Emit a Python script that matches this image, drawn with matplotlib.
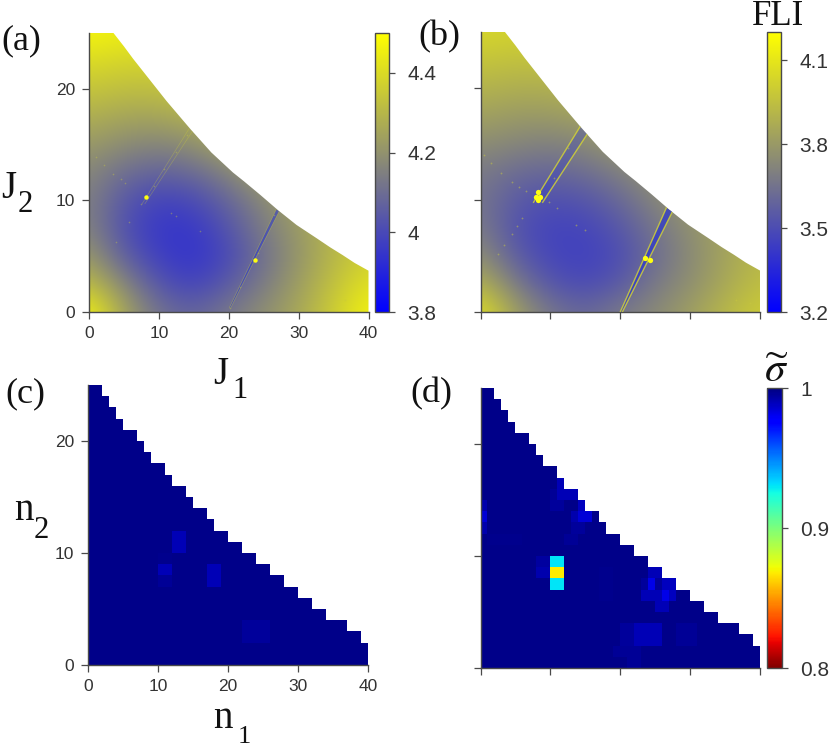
import numpy as np
import matplotlib
matplotlib.use("Agg")
import matplotlib.pyplot as plt
from matplotlib.colors import LinearSegmentedColormap
from matplotlib.patches import Polygon

W, H = 831, 747
plt.rcParams['mathtext.fontset'] = 'stix'
SERIF = 'Liberation Serif'
SANS = 'Liberation Sans'
DARK = '#4a4a4a'

# ---- data ----
J1_nodes = [0, 5, 10, 15, 20, 25, 30, 35, 40]
J2_nodes = [0, 2.5, 5, 7.5, 10, 12.5, 15, 17.5, 20, 22.5, 25]

fli_a = [
    [4.47, 4.25, 4.11, 4.07, 4.13, 4.19, 4.26, 4.36, 4.47],
    [4.32, 4.17, 4.03, 3.98, 4.05, 4.14, 4.23, 4.33, 4.42],
    [4.22, 4.06, 3.97, 3.94, 4.00, 4.11, 4.21, 4.30, 4.37],
    [4.16, 4.02, 3.95, 3.95, 4.03, 4.14, 4.22, 4.30, 4.36],
    [4.15, 4.04, 3.98, 4.00, 4.08, 4.17, 4.25, 4.32, 4.38],
    [4.17, 4.10, 4.07, 4.09, 4.16, 4.25, 4.32, 4.38, 4.42],
    [4.22, 4.18, 4.16, 4.19, 4.26, 4.32, 4.38, 4.42, 4.46],
    [4.28, 4.25, 4.25, 4.28, 4.33, 4.38, 4.42, 4.46, 4.48],
    [4.34, 4.32, 4.32, 4.35, 4.38, 4.42, 4.46, 4.48, 4.50],
    [4.40, 4.38, 4.38, 4.40, 4.42, 4.46, 4.48, 4.50, 4.50],
    [4.47, 4.45, 4.44, 4.45, 4.47, 4.48, 4.50, 4.50, 4.50],
]
fli_b = [
    [4.08, 3.82, 3.66, 3.60, 3.68, 3.74, 3.82, 3.92, 4.00],
    [3.90, 3.68, 3.53, 3.49, 3.55, 3.68, 3.76, 3.86, 3.95],
    [3.76, 3.56, 3.47, 3.45, 3.50, 3.63, 3.74, 3.84, 3.92],
    [3.68, 3.52, 3.46, 3.47, 3.54, 3.66, 3.76, 3.84, 3.92],
    [3.66, 3.55, 3.51, 3.53, 3.61, 3.72, 3.80, 3.88, 3.94],
    [3.68, 3.62, 3.60, 3.63, 3.70, 3.78, 3.86, 3.92, 3.98],
    [3.75, 3.72, 3.70, 3.73, 3.80, 3.86, 3.92, 3.98, 4.02],
    [3.83, 3.80, 3.80, 3.83, 3.88, 3.92, 3.98, 4.02, 4.05],
    [3.90, 3.88, 3.88, 3.92, 3.96, 3.98, 4.02, 4.05, 4.08],
    [3.97, 3.95, 3.96, 3.98, 4.00, 4.02, 4.05, 4.08, 4.10],
    [4.04, 4.02, 4.03, 4.04, 4.05, 4.08, 4.10, 4.10, 4.10],
]

edge_J1 = [0, 3.5, 5, 6.3, 8.7, 11.1, 14.5, 17.5, 20.6, 22.2, 24.5, 27, 29.7, 32.6, 34.5, 36.3, 38, 40, 40, 0]
edge_J2 = [25, 25, 23.8, 22.7, 20.8, 18.9, 16.4, 14.3, 12.5, 11.7, 10.5, 9.15, 7.8, 6.6, 5.8, 5.1, 4.4, 3.7, 0, 0]

# two edges of each resonance strip
a_res1_left_J1 = [20.1, 26.8]
a_res1_left_J2 = [0.4, 9.2]
a_res1_right_J1 = [20.3, 27.2]
a_res1_right_J2 = [0.4, 9.0]
a_res2_left_J1 = [7.6, 14.3]
a_res2_left_J2 = [9.7, 16.4]
a_res2_right_J1 = [8.0, 14.8]
a_res2_right_J2 = [9.7, 16.2]
b_res1_left_J1 = [20.0, 26.6]
b_res1_left_J2 = [0.0, 9.3]
b_res1_right_J1 = [20.3, 27.5]
b_res1_right_J2 = [0.0, 9.0]
b_res2_left_J1 = [7.6, 14.4]
b_res2_left_J2 = [9.8, 16.7]
b_res2_right_J1 = [8.9, 15.5]
b_res2_right_J2 = [9.8, 16.1]

a_spot_J1 = [1.0, 2.2, 3.4, 4.6, 5.2, 11.8, 12.5, 15.9, 5.7, 3.9, 9.3, 10.7, 12.5, 14.0, 7.5, 20.2, 21.6, 24.2, 26.5, 36.6]
a_spot_J2 = [13.9, 13.2, 12.4, 11.9, 11.6, 8.9, 8.6, 7.3, 8.1, 6.3, 11.3, 12.8, 14.3, 15.9, 9.7, 0.4, 2.2, 5.3, 8.7, 1.1]
a_hot_J1 = [8.2, 23.7]
a_hot_J2 = [10.3, 4.7]

b_spot_J1 = [0.5, 1.5, 3.0, 4.5, 5.5, 6.5, 9.8, 11.0, 13.6, 15.0, 5.2, 4.5, 3.4, 2.5, 6.0, 10.5, 12.5, 36.5, 38.5]
b_spot_J2 = [14.0, 13.3, 12.4, 11.6, 11.2, 10.8, 9.8, 9.3, 7.8, 7.3, 7.7, 7.0, 6.0, 5.2, 8.4, 12.0, 14.6, 1.1, 0.8]
b_hot_J1 = [7.9, 8.5, 8.2, 8.2, 23.5, 24.2]
b_hot_J2 = [10.3, 10.3, 10.7, 10.0, 4.8, 4.6]

row_lengths = [40, 40, 39, 37, 34, 32, 30, 28, 26, 24, 22, 20, 18, 17, 15, 14, 12, 11, 9, 8, 7, 5, 4, 3, 2]
sigma_base = 0.998

c_n1 = [12, 13, 12, 13, 10, 11, 10, 11, 10, 11, 17, 18, 17, 18, 22, 23, 24, 25, 22, 23, 24, 25]
c_n2 = [11, 11, 10, 10, 9, 9, 8, 8, 7, 7, 8, 8, 7, 7, 3, 3, 3, 3, 2, 2, 2, 2]
c_val = [.990, .990, .990, .990, .997, .997, .990, .990, .996, .996, .990, .990, .990, .990,
         .995, .995, .995, .995, .995, .995, .995, .995]

d_n1 = [10, 11, 10, 11, 10, 11, 8, 9, 8, 9,
        0, 0, 0,
        11, 10, 11, 12, 13, 10, 11, 14, 13, 14, 15, 13, 14, 12, 13,
        24, 25, 23, 24, 25, 26, 27, 23, 24, 25, 26, 27, 25, 26,
        22, 23, 24, 25, 22, 23, 24, 25, 20, 21, 20, 21, 19, 20, 21, 22, 21, 22,
        28, 29, 30, 28, 29, 30, 17, 18, 17, 18, 17, 18, 1, 2, 3, 4, 5]
d_n2 = [9, 9, 8, 8, 7, 7, 9, 9, 8, 8,
        14, 13, 12,
        16, 15, 15, 15, 15, 14, 14, 14, 13, 13, 13, 12, 12, 11, 11,
        8, 8, 7, 7, 7, 7, 7, 6, 6, 6, 6, 6, 5, 5,
        3, 3, 3, 3, 2, 2, 2, 2, 3, 3, 2, 2, 1, 1, 1, 1, 0, 0,
        3, 3, 3, 2, 2, 2, 8, 8, 7, 7, 6, 6, 11, 11, 11, 11, 11]
d_val = [.93, .93, .868, .868, .93, .93, .994, .994, .992, .992,
         .992, .985, .992,
         .990, .996, .990, .990, .990, .995, .995, .989, .992, .985, .985, .995, .995, .996, .996,
         .990, .990, .995, .982, .995, .989, .989, .990, .990, .990, .982, .989, .990, .990,
         .990, .990, .990, .990, .990, .990, .990, .990, .995, .995, .995, .995, .996, .996, .996, .996, .996, .996,
         .996, .996, .996, .996, .996, .996, .997, .997, .997, .997, .997, .997, .997, .997, .997, .997, .997]

ticks_x = [0, 10, 20, 30, 40]
ticks_y = [0, 10, 20]
cbar_a_ticks = [3.8, 4.0, 4.2, 4.4]
cbar_a_labels = ['3.8', '4', '4.2', '4.4']
cbar_b_ticks = [3.2, 3.5, 3.8, 4.1]
cbar_d_ticks = [0.8, 0.9, 1.0]
cbar_d_labels = ['0.8', '0.9', '1']

# ---- helpers ----
fig = plt.figure(figsize=(W / 100, H / 100), dpi=100, facecolor='white')


def px_axes(x0, y0, x1, y1):
    return fig.add_axes([x0 / W, 1 - y1 / H, (x1 - x0) / W, (y1 - y0) / H])


def px_text(x, y, s, size, **kw):
    kw.setdefault('family', SERIF)
    fig.text(x / W, 1 - y / H, s, fontsize=size, color='#111111', va='baseline', ha='left', **kw)


def style(ax, labels):
    ax.set_xlim(0, 40)
    ax.set_ylim(0, 25)
    for s in ('top', 'right'):
        ax.spines[s].set_visible(False)
    for s in ('left', 'bottom'):
        ax.spines[s].set_color(DARK)
        ax.spines[s].set_linewidth(1.0)
    ax.set_xticks(ticks_x)
    ax.set_yticks(ticks_y)
    ax.tick_params(length=5, width=0.9, color=DARK, pad=5, labelsize=12.5, labelcolor='#333333',
                   labelbottom=labels, labelleft=labels)
    if labels:
        for t in ax.get_xticklabels() + ax.get_yticklabels():
            t.set_family(SANS)
    ax.set_facecolor('white')


def style_cbar(cb, ticks, labels):
    cb.set_ticks(ticks)
    cb.set_ticklabels(labels)
    cb.ax.minorticks_off()
    cb.ax.tick_params(length=4, width=0.9, color=DARK, pad=9, labelsize=15, labelcolor='#333333')
    for t in cb.ax.get_yticklabels():
        t.set_family(SANS)
    cb.outline.set_edgecolor(DARK)
    cb.outline.set_linewidth(1.0)


fli_cmap = LinearSegmentedColormap.from_list('fli', ['#0000ff', '#808080', '#ffff00'])
sig_cmap = plt.get_cmap('jet_r')
extent = (J1_nodes[0] - 2.5, J1_nodes[-1] + 2.5, J2_nodes[0] - 1.25, J2_nodes[-1] + 1.25)


def strip(ax, poly, lx, ly, rx, ry, blue_alpha, lw, line_alpha):
    arts = ax.fill(list(lx) + list(rx)[::-1], list(ly) + list(ry)[::-1], color='#2a35d0',
                   alpha=blue_alpha, lw=0, zorder=2)
    arts += ax.plot(lx, ly, color='#d8d830', lw=lw, alpha=line_alpha, zorder=3)
    arts += ax.plot(rx, ry, color='#d8d830', lw=lw, alpha=line_alpha, zorder=3)
    for art in arts:
        art.set_clip_path(poly)


def fli_panel(rect, rect_cb, grid, vmin, vmax, labels):
    ax = px_axes(*rect)
    im = ax.imshow(np.array(grid), origin='lower', extent=extent, aspect='auto', cmap=fli_cmap,
                   vmin=vmin, vmax=vmax, interpolation='bicubic', zorder=1)
    poly = Polygon(np.column_stack([edge_J1, edge_J2]), closed=True, transform=ax.transData,
                   facecolor='none', edgecolor='none')
    ax.add_patch(poly)
    im.set_clip_path(poly)
    style(ax, labels)
    cax = px_axes(*rect_cb)
    cb = fig.colorbar(im, cax=cax)
    return ax, poly, cb


def sigma_panel(rect, n1, n2, vals, labels):
    ax = px_axes(*rect)
    z = np.ma.masked_all((25, 40))
    for row, length in enumerate(row_lengths):
        z[row, :length] = sigma_base
    for a, b, v in zip(n1, n2, vals):
        z[b, a] = v
    m = ax.pcolormesh(np.arange(41), np.arange(26), z, cmap=sig_cmap, vmin=0.8, vmax=1.0,
                      shading='flat', linewidth=0, rasterized=True)
    style(ax, labels)
    return m


# ---- panels ----
ax_a, poly_a, cb_a = fli_panel((89, 33, 368.5, 312), (375, 33, 389, 312), fli_a, 3.8, 4.5, True)
style_cbar(cb_a, cbar_a_ticks, cbar_a_labels)
strip(ax_a, poly_a, a_res1_left_J1, a_res1_left_J2, a_res1_right_J1, a_res1_right_J2, 0.55, 0.5, 0.4)
strip(ax_a, poly_a, a_res2_left_J1, a_res2_left_J2, a_res2_right_J1, a_res2_right_J2, 0.0, 0.5, 0.3)
ax_a.plot(a_spot_J1, a_spot_J2, ls='none', marker='o', ms=1.2, mec='none', color='#c8c840', alpha=0.4, zorder=4)
ax_a.plot(a_hot_J1, a_hot_J2, ls='none', marker='o', ms=3.2, mec='none', color='#ffff10', zorder=5)

ax_b, poly_b, cb_b = fli_panel((480.5, 32, 760, 312), (767, 32, 781, 312), fli_b, 3.2, 4.2, False)
style_cbar(cb_b, cbar_b_ticks, [str(t) for t in cbar_b_ticks])
strip(ax_b, poly_b, b_res1_left_J1, b_res1_left_J2, b_res1_right_J1, b_res1_right_J2, 0.7, 1.0, 0.8)
strip(ax_b, poly_b, b_res2_left_J1, b_res2_left_J2, b_res2_right_J1, b_res2_right_J2, 0.3, 1.0, 0.8)
ax_b.plot(b_spot_J1, b_spot_J2, ls='none', marker='o', ms=1.3, mec='none', color='#c8c840', alpha=0.5, zorder=4)
ax_b.plot(b_hot_J1, b_hot_J2, ls='none', marker='o', ms=3.8, mec='none', color='#ffff10', zorder=5)

sigma_panel((88, 385, 368, 665), c_n1, c_n2, c_val, True)
m_d = sigma_panel((480.5, 388, 760, 668), d_n1, d_n2, d_val, False)
cax_d = px_axes(767, 388, 782, 668)
cb_d = fig.colorbar(m_d, cax=cax_d)
style_cbar(cb_d, cbar_d_ticks, cbar_d_labels)

# ---- text ----
px_text(1, 49, '(a)', 26)
px_text(418, 45, '(b)', 26)
px_text(5, 402, '(c)', 26)
px_text(410, 402, '(d)', 26)
px_text(752, 25, 'FLI', 25)
px_text(1, 198, 'J', 28)
px_text(18, 212, '2', 22)
px_text(213, 384, 'J', 28)
px_text(232, 398, '1', 22)
px_text(14, 520, 'n', 28)
px_text(34, 538, '2', 22)
px_text(213, 728, 'n', 28)
px_text(238, 743, '1', 19)
px_text(764, 382, r'$\widetilde{\sigma}$', 30)

fig.savefig('out.png', dpi=100)
